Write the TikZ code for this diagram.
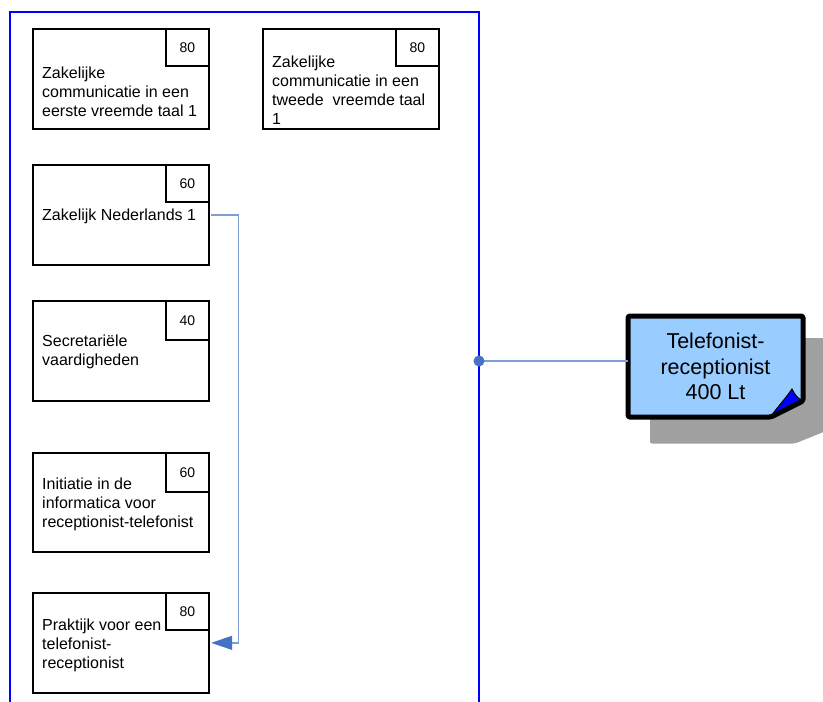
\documentclass[tikz,border=0pt]{standalone}
\usepackage{fontspec}
\setmainfont{Liberation Sans}
\usetikzlibrary{arrows.meta,calc}
\definecolor{connc}{HTML}{7F9FD3}
\definecolor{dotc}{HTML}{4472C4}
\definecolor{bigfill}{HTML}{99CCFF}
\definecolor{shadc}{HTML}{A0A0A0}
\begin{document}
\begin{tikzpicture}[x=1pt,y=-1pt,
  course/.style={draw=black,line width=1.7pt,minimum width=176pt,minimum height=100pt,anchor=north west,inner sep=0pt},
  numbox/.style={draw=black,line width=1.7pt,minimum width=43pt,minimum height=37pt,anchor=north east,inner sep=0pt,font=\fontsize{14}{16}\selectfont},
  ctext/.style={anchor=west,align=left,inner sep=0pt,font=\fontsize{16}{19}\selectfont},
  conn/.style={draw=connc,line width=1.3pt},
  frame/.style={draw=blue,line width=1.8pt}]
\useasboundingbox (0,0) rectangle (823,702);
% frame
\draw[frame] (10,712) -- (10,12) -- (479,12) -- (479,712);
% boxes
\node[course] (b1) at (32,28) {};
\node[numbox] (n1) at (b1.north east) {80};
\node[ctext] (t1) at (42,91.5) {Zakelijke\\communicatie in een\\eerste vreemde taal 1};
\node[course] (b2) at (262,28) {};
\node[numbox] (n2) at (b2.north east) {80};
\node[ctext] (t2) at (272,90) {Zakelijke\\communicatie in een\\tweede\ \ vreemde taal\\1};
\node[course] (b3) at (32,164) {};
\node[numbox] (n3) at (b3.north east) {60};
\node[ctext] (t3) at (42,216.5) {Zakelijk Nederlands 1};
\node[course] (b4) at (32,300) {};
\node[numbox,minimum height=39pt] (n4) at (b4.north east) {40};
\node[ctext] (t4) at (42,352) {Secretariële\\vaardigheden};
\node[course,minimum height=99pt] (b5) at (32,452) {};
\node[numbox,minimum height=39pt] (n5) at (b5.north east) {60};
\node[ctext] (t5) at (42,504) {Initiatie in de\\informatica voor\\receptionist-telefonist};
\node[course] (b6) at (32,592) {};
\node[numbox] (n6) at (b6.north east) {80};
\node[ctext] (t6) at (42,645.5) {Praktijk voor een\\telefonist-\\receptionist};
% connector
\draw[conn,-{Triangle[length=21pt,width=14pt,fill=dotc,color=dotc]}] ($(b3.east)+(1.5,0)$) -- ++(27.5,0) |- ($(b6.east)+(1.5,0)$);
% big node shadow
\fill[shadc,rounded corners=2pt] (650,338) -- (826,338) -- (826,431) -- (795,443.5) -- (650,443.5) -- cycle;
% big node
\fill[bigfill] (628,316) -- (803,316) -- (803,401) -- (771,417) -- (628,417) -- cycle;
\node[minimum width=175pt,minimum height=101pt,inner sep=0pt,align=center,font=\fontsize{21.5}{25.5}\selectfont] (big) at (715.5,366.5) {Telefonist-\\receptionist\\400 Lt};
\fill[blue] (771,416) .. controls (780,404) and (786,398) .. (792,389) .. controls (795,395) and (797,398) .. (803,401) -- cycle;
\draw[black,line width=1pt] (771,416) .. controls (780,404) and (786,398) .. (792,389) .. controls (795,395) and (797,398) .. (803,401);
\draw[black,line width=5pt,line join=round,rounded corners=1.5pt] (628,316) -- (803,316) -- (803,401) -- (771,417) -- (628,417) -- cycle;
% dot connector
\coordinate (fr) at (479,361);
\draw[conn] (fr) -- (fr -| big.west);
\fill[dotc] (fr) circle (5.5pt);
\end{tikzpicture}
\end{document}
